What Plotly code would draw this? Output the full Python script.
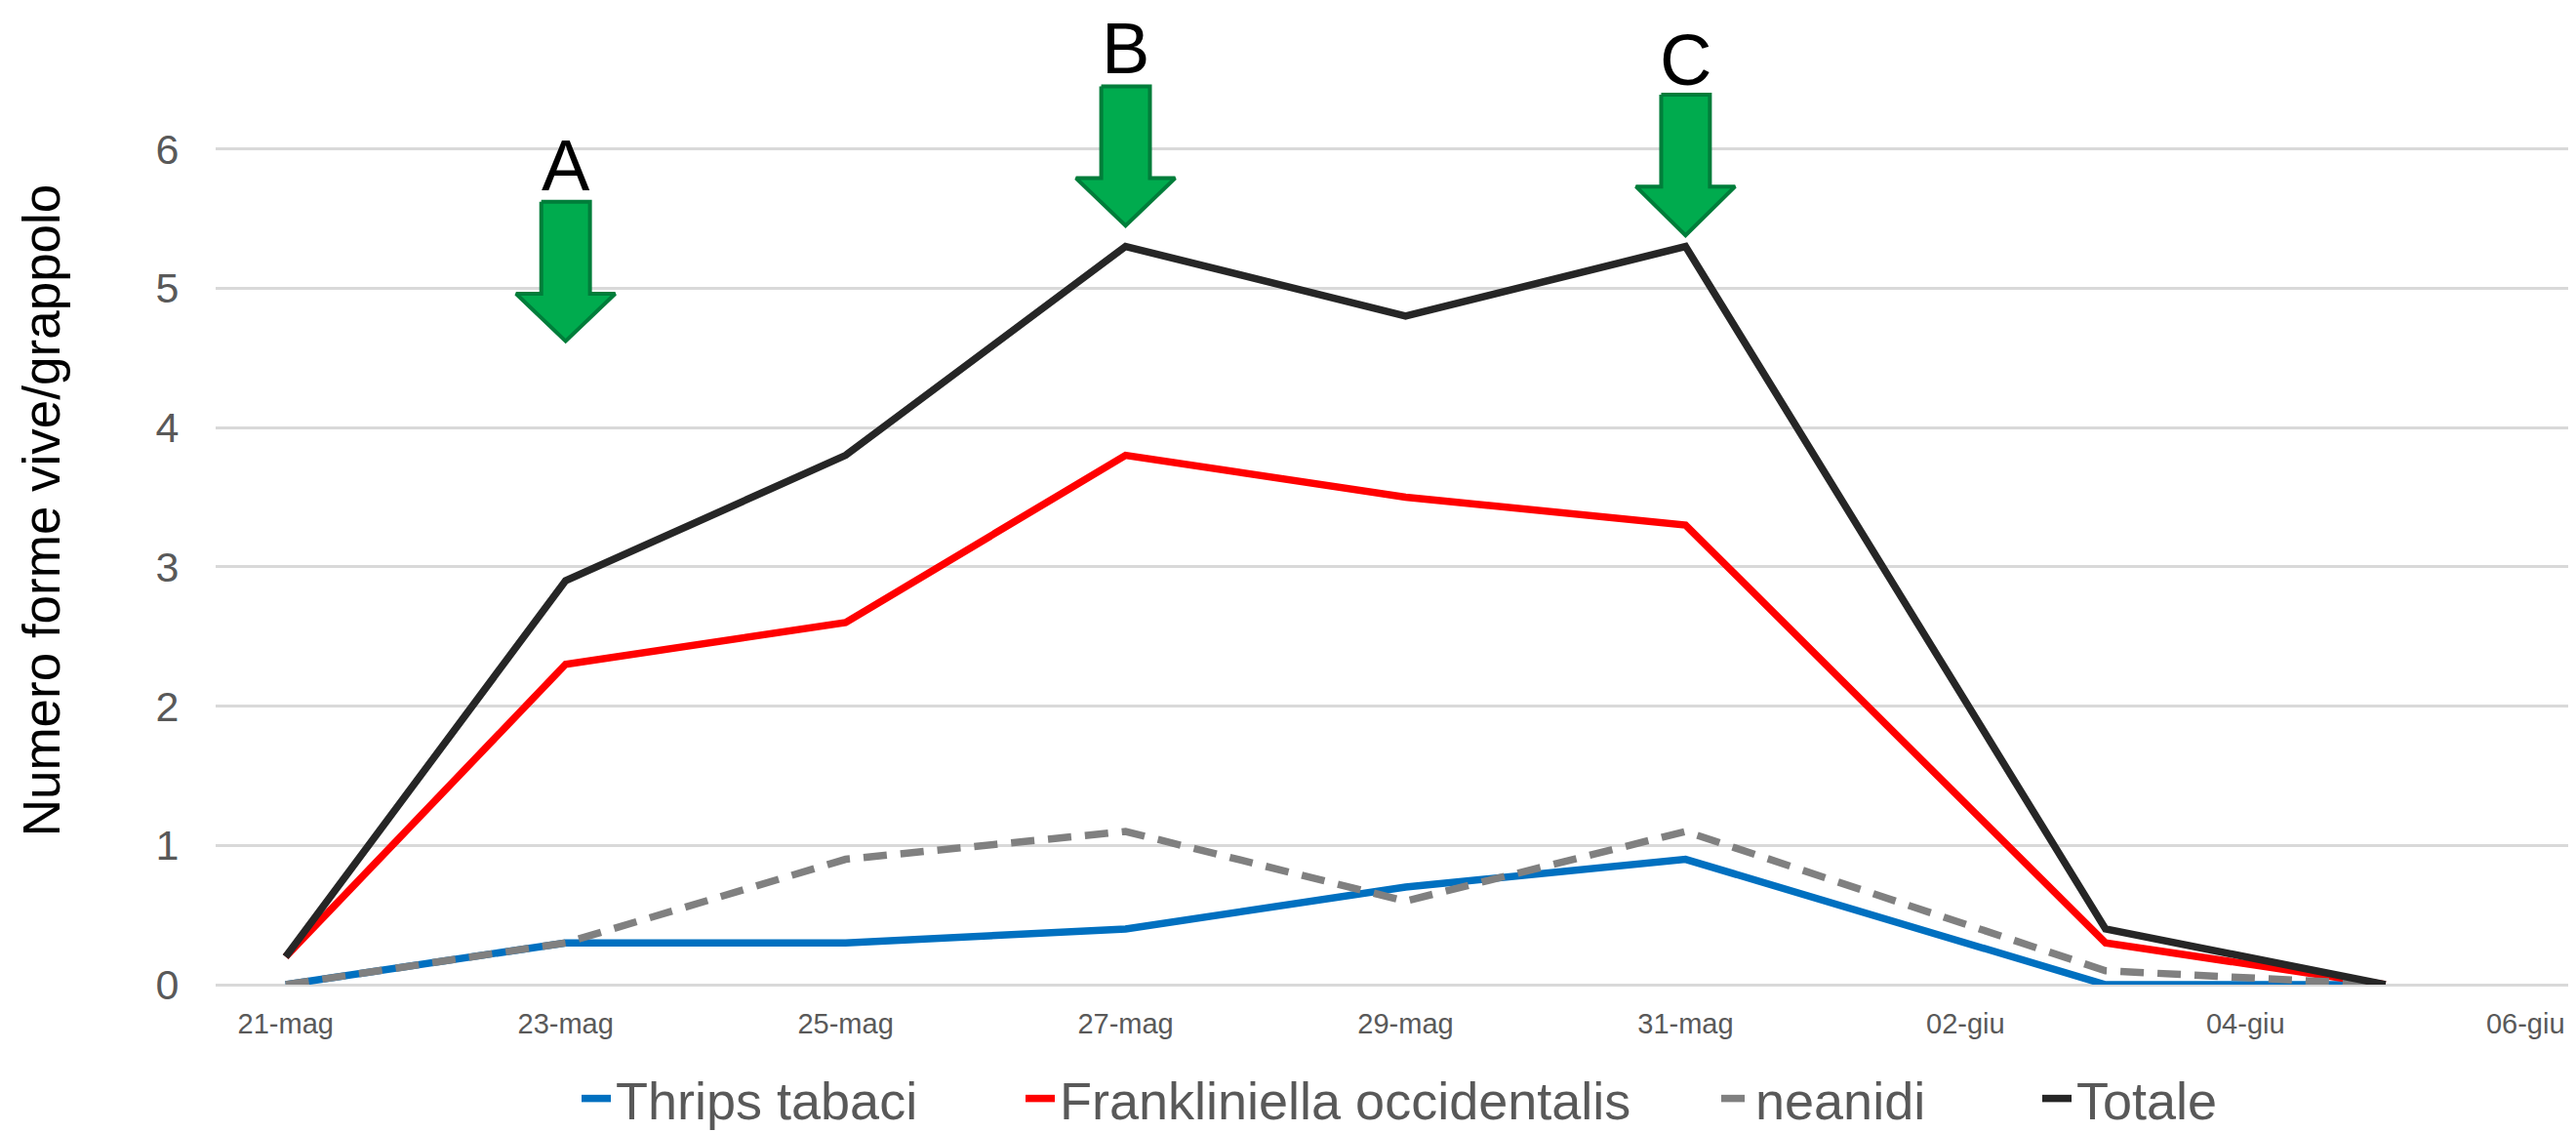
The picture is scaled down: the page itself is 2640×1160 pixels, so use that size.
import pandas as pd
import plotly.graph_objects as go

# sampling dates
dates = ["2021-05-21", "2021-05-23", "2021-05-25", "2021-05-27",
         "2021-05-29", "2021-05-31", "2021-06-03", "2021-06-05"]

thrips_tabaci = [0.0, 0.3, 0.3, 0.4, 0.7, 0.9, 0.0, 0.0]
frankliniella = [0.2, 2.3, 2.6, 3.8, 3.5, 3.3, 0.3, 0.0]
neanidi = [0.0, 0.3, 0.9, 1.1, 0.6, 1.1, 0.1, 0.0]
totale = [0.2, 2.9, 3.8, 5.3, 4.8, 5.3, 0.4, 0.0]

tick_vals = ["2021-05-21", "2021-05-23", "2021-05-25", "2021-05-27", "2021-05-29",
             "2021-05-31", "2021-06-02", "2021-06-04", "2021-06-06"]
tick_text = ["21-mag", "23-mag", "25-mag", "27-mag", "29-mag",
             "31-mag", "02-giu", "04-giu", "06-giu"]

# treatment arrows: label, date pointed at
arrow_labels = ["A", "B", "C"]
arrow_dates = ["2021-05-23", "2021-05-27", "2021-05-31"]
arrow_top = [5.62, 6.45, 6.39]
arrow_head = [4.96, 5.79, 5.73]
arrow_tip = [4.62, 5.45, 5.38]
label_y = [5.88, 6.72, 6.64]

Y_MAX = 6.81
PLOT_L, PLOT_R = 213, 2640
NARROW = "Liberation Sans Narrow, Arial Narrow, Liberation Sans, Arial, sans-serif"
GREY_TXT = "#595959"

fig = go.Figure()

series = [
    ("Thrips tabaci", thrips_tabaci, "#0070C0", "solid"),
    ("Frankliniella occidentalis", frankliniella, "#FF0000", "solid"),
    ("neanidi", neanidi, "#808080", "24px,14px"),
    ("Totale", totale, "#262626", "solid"),
]
# one legend per series, so the entries can be spaced like the original
legend_text_x = [627, 1082, 1795, 2124]
legend_ids = ["legend", "legend2", "legend3", "legend4"]

for (name, vals, color, dash), lid in zip(series, legend_ids):
    fig.add_trace(go.Scatter(x=pd.to_datetime(dates), y=vals, name=name, mode="lines",
                             line=dict(color=color, width=7.5, dash=dash), legend=lid))

# green down arrows
shaft = pd.Timedelta(hours=24 * 0.174)
wing = pd.Timedelta(hours=24 * 0.354)
for lab, d, top, head, tip, ly in zip(arrow_labels, arrow_dates, arrow_top, arrow_head, arrow_tip, label_y):
    d = pd.Timestamp(d)
    xs = [d - shaft, d + shaft, d + shaft, d + wing, d, d - wing, d - shaft, d - shaft]
    ys = [top, top, head, head, tip, head, head, top]
    fig.add_trace(go.Scatter(x=xs, y=ys, mode="lines", fill="toself", fillcolor="#00AB4E",
                             line=dict(color="#007D3A", width=4), showlegend=False,
                             hoverinfo="skip"))
    fig.add_annotation(x=d, y=ly, text=lab, showarrow=False, xref="x", yref="y",
                       font=dict(family="Liberation Sans, Arial, sans-serif", size=74, color="black"))

plot_h = 1015 - 29
legend_layout = {}
for lid, tx in zip(legend_ids, legend_text_x):
    legend_layout[lid] = dict(orientation="h", x=(tx - 44 - PLOT_L) / (PLOT_R - PLOT_L), xanchor="left",
                              y=(1015 - 1134) / plot_h, yanchor="middle",
                              font=dict(family=NARROW, size=54, color=GREY_TXT),
                              bgcolor="rgba(0,0,0,0)")

fig.update_layout(
    width=2640, height=1160,
    margin=dict(l=PLOT_L, r=2640 - PLOT_R, t=29, b=145),
    plot_bgcolor="white", paper_bgcolor="white",
    showlegend=True,
    **legend_layout,
)
fig.update_xaxes(
    range=[pd.Timestamp("2021-05-21") - pd.Timedelta(hours=12), pd.Timestamp("2021-06-06") + pd.Timedelta(hours=10)],
    tickvals=pd.to_datetime(tick_vals), ticktext=tick_text,
    tickfont=dict(family=NARROW, size=29, color=GREY_TXT),
    ticks="outside", ticklen=14, tickcolor="rgba(0,0,0,0)",
    showgrid=False, showline=False, zeroline=False,
)
fig.update_yaxes(
    range=[0, Y_MAX], dtick=1, tick0=0,
    tickfont=dict(family="Liberation Sans, Arial, sans-serif", size=43, color=GREY_TXT),
    ticks="outside", ticklen=28, tickcolor="rgba(0,0,0,0)",
    gridcolor="#D9D9D9", gridwidth=3, zeroline=True, zerolinecolor="#D9D9D9", zerolinewidth=3,
    title=dict(text="Numero forme vive/grappolo", standoff=80,
               font=dict(family=NARROW, size=53, color="black")),
)

fig.write_html("out.html")
